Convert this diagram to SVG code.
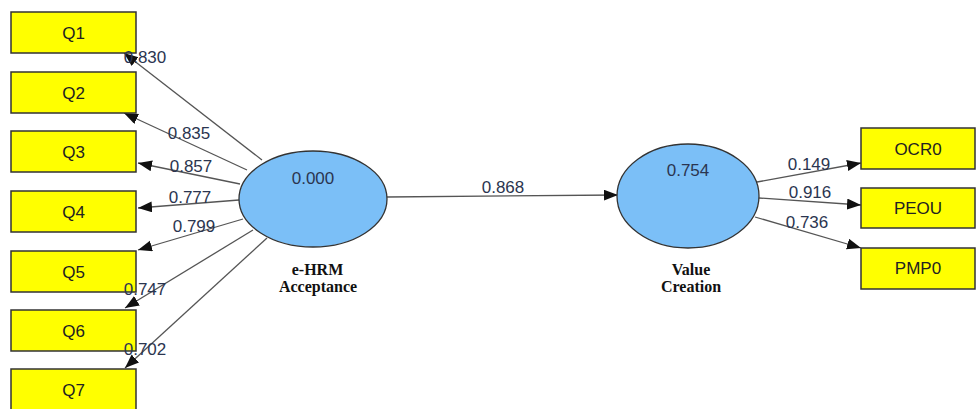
<svg xmlns="http://www.w3.org/2000/svg" width="977" height="409" viewBox="0 0 977 409">
<style>
.box{fill:#ffff00;stroke:#333;stroke-width:1.5}
.lv{fill:#7bbff7;stroke:#333;stroke-width:1.3}
.t{font-family:"Liberation Sans",Arial,sans-serif;font-size:17px;fill:#222;text-anchor:middle}
.w{font-family:"Liberation Sans",Arial,sans-serif;font-size:17px;fill:#2b3550;text-anchor:middle}
.n{font-family:"Liberation Serif","Times New Roman",serif;font-size:16px;font-weight:bold;fill:#111;text-anchor:middle}
.c{stroke:#555;stroke-width:1.3;fill:none;marker-end:url(#ah)}
</style>
<defs>
<marker id="ah" markerUnits="userSpaceOnUse" markerWidth="15" markerHeight="12" refX="14" refY="5.5" orient="auto">
<path d="M0,0 L14,5.5 L0,11 z" fill="#111"/>
</marker>
</defs>
<rect width="977" height="409" fill="#fff"/>
<g id="connectors">
<line class="c" x1="262" y1="160" x2="124" y2="53"/>
<line class="c" x1="247" y1="170" x2="124" y2="113"/>
<line class="c" x1="240" y1="184" x2="138" y2="163"/>
<line class="c" x1="239" y1="200" x2="138" y2="208"/>
<line class="c" x1="243" y1="219" x2="138" y2="250"/>
<line class="c" x1="253" y1="230" x2="125" y2="308"/>
<line class="c" x1="267" y1="238" x2="125" y2="368"/>
<line class="c" x1="387" y1="197" x2="618" y2="195"/>
<line class="c" x1="757" y1="182" x2="861" y2="163"/>
<line class="c" x1="759" y1="198" x2="861" y2="205"/>
<line class="c" x1="755" y1="217" x2="861" y2="248"/>
</g>
<g id="Q1"><rect class="box" x="11" y="12" width="125" height="41"/><text class="t" x="73.5" y="38.5">Q1</text></g>
<g id="Q2"><rect class="box" x="11" y="72" width="125" height="41"/><text class="t" x="73.5" y="98.5">Q2</text></g>
<g id="Q3"><rect class="box" x="11" y="131" width="125" height="41"/><text class="t" x="73.5" y="157.5">Q3</text></g>
<g id="Q4"><rect class="box" x="11" y="191" width="125" height="41"/><text class="t" x="73.5" y="217.5">Q4</text></g>
<g id="Q5"><rect class="box" x="11" y="251" width="125" height="41"/><text class="t" x="73.5" y="277.5">Q5</text></g>
<g id="Q6"><rect class="box" x="11" y="310" width="125" height="41"/><text class="t" x="73.5" y="336.5">Q6</text></g>
<g id="Q7"><rect class="box" x="11" y="369" width="125" height="41"/><text class="t" x="73.5" y="395.5">Q7</text></g>
<g id="OCR0"><rect class="box" x="861" y="128" width="114" height="41"/><text class="t" x="918" y="154.5">OCR0</text></g>
<g id="PEOU"><rect class="box" x="861" y="188" width="114" height="40"/><text class="t" x="918" y="214">PEOU</text></g>
<g id="PMP0"><rect class="box" x="861" y="248" width="114" height="41"/><text class="t" x="918" y="274">PMP0</text></g>
<g id="eHRM"><ellipse class="lv" cx="313" cy="199" rx="74" ry="48"/><text class="w" x="313" y="184">0.000</text><text class="n" x="317.5" y="275">e-HRM</text><text class="n" x="318" y="292">Acceptance</text></g>
<g id="ValueCreation"><ellipse class="lv" cx="688" cy="196" rx="71" ry="52"/><text class="w" x="688" y="176">0.754</text><text class="n" x="691" y="275">Value</text><text class="n" x="691" y="292">Creation</text></g>
<g id="labels">
<text class="w" x="145" y="63">0.830</text>
<text class="w" x="189" y="139">0.835</text>
<text class="w" x="191" y="172">0.857</text>
<text class="w" x="190" y="203">0.777</text>
<text class="w" x="194" y="232">0.799</text>
<text class="w" x="145" y="295">0.747</text>
<text class="w" x="145" y="355">0.702</text>
<text class="w" x="503" y="193">0.868</text>
<text class="w" x="809" y="170">0.149</text>
<text class="w" x="810" y="198">0.916</text>
<text class="w" x="807" y="228">0.736</text>
</g>
</svg>
